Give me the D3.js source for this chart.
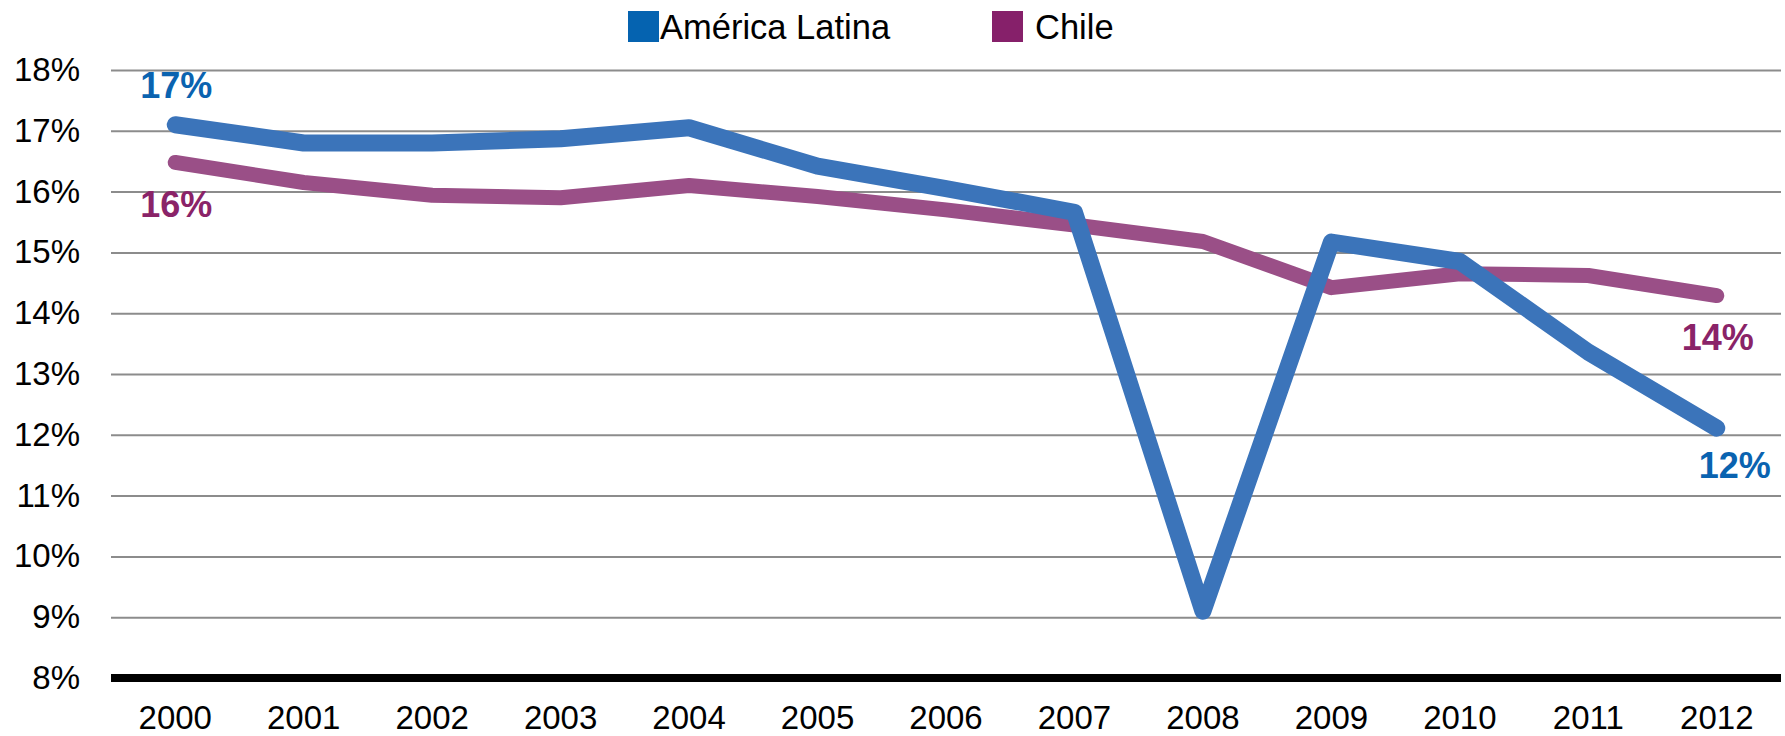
<!DOCTYPE html>
<html>
<head>
<meta charset="utf-8">
<script src="https://cdn.jsdelivr.net/npm/d3@7"></script>
<style>
html,body{margin:0;padding:0;background:#fff;}
svg{display:block;font-family:"Liberation Sans",Arial,sans-serif;}
</style>
</head>
<body>
<svg id="chart" width="1785" height="736"></svg>
<script>
const years = ["2000","2001","2002","2003","2004","2005","2006","2007","2008","2009","2010","2011","2012"];
const latam = [17.1,16.8,16.8,16.87,17.05,16.42,16.05,15.66,9.1,15.17,14.85,13.36,12.11];
const chile = [16.48,16.15,15.94,15.9,16.1,15.92,15.7,15.45,15.18,14.42,14.65,14.62,14.29];
const yTicks = [8,9,10,11,12,13,14,15,16,17,18];
const seriesNames = ["América Latina","Chile"];
const endLabels = {latamFirst:"17%", chileFirst:"16%", chileLast:"14%", latamLast:"12%"};

(function(){
const svg = d3.select("#chart");
const pLeft = 111, pRight = 1781, pTop = 70, pBottom = 678;

const x = d3.scaleBand().domain(years).range([pLeft, pRight]).padding(0);
const y = d3.scaleLinear().domain([8,18]).range([pBottom, pTop]);
const cx = d => x(d) + x.bandwidth()/2;

// gridlines + y labels
const yAxis = d3.axisLeft(y).tickValues(yTicks).tickSize(-(pRight-pLeft)).tickFormat(d => d + "%").tickPadding(31);
const gy = svg.append("g").attr("transform", `translate(${pLeft},0)`).call(yAxis);
gy.select(".domain").remove();
gy.selectAll(".tick line").attr("stroke","#8c8c8c").attr("stroke-width",2);
gy.selectAll(".tick text").attr("font-size",33).attr("fill","#000").attr("font-family","Liberation Sans, Arial, sans-serif");

// x axis
const xAxis = d3.axisBottom(x).tickSize(0).tickPadding(28);
const gx = svg.append("g").attr("transform", `translate(0,${pBottom})`).call(xAxis);
gx.select(".domain").remove();
gx.selectAll(".tick text").attr("font-size",33).attr("fill","#000").attr("font-family","Liberation Sans, Arial, sans-serif");
svg.append("line").attr("x1",pLeft).attr("x2",pRight).attr("y1",y(8)).attr("y2",y(8))
  .attr("stroke","#000").attr("stroke-width",8);

const line = d3.line().x((d,i)=>cx(years[i])).y(d=>y(d));

svg.append("path").datum(chile).attr("d",line).attr("fill","none")
  .attr("stroke","#9a4f87").attr("stroke-width",15).attr("stroke-linecap","round").attr("stroke-linejoin","round");
svg.append("path").datum(latam).attr("d",line).attr("fill","none")
  .attr("stroke","#3b74ba").attr("stroke-width",17).attr("stroke-linecap","round").attr("stroke-linejoin","round");

// data labels
const lab = (txt, xx, yy, col) => svg.append("text").attr("x",xx).attr("y",yy).attr("text-anchor","middle")
  .attr("font-size",36).attr("font-weight","bold").attr("fill",col).text(txt);
const blueT = "#0a63b0", purpleT = "#8a2368";
lab(endLabels.latamFirst, cx(years[0])+1, y(latam[0])-27, blueT);
lab(endLabels.chileFirst, cx(years[0])+1, y(chile[0])+55, purpleT);
lab(endLabels.chileLast, cx(years[12])+1, y(chile[12])+54, purpleT);
lab(endLabels.latamLast, cx(years[12])+18, y(latam[12])+50, blueT);

// legend
const legend = [{name:seriesNames[0], col:"#0563b0", sx:628, tx:660},{name:seriesNames[1], col:"#86206a", sx:992, tx:1035}];
legend.forEach(l=>{
  svg.append("rect").attr("x",l.sx).attr("y",11).attr("width",31).attr("height",31).attr("fill",l.col);
  svg.append("text").attr("x",l.tx).attr("y",39).attr("font-size",34.5).attr("fill","#000").text(l.name);
});
})();
</script>
</body>
</html>
